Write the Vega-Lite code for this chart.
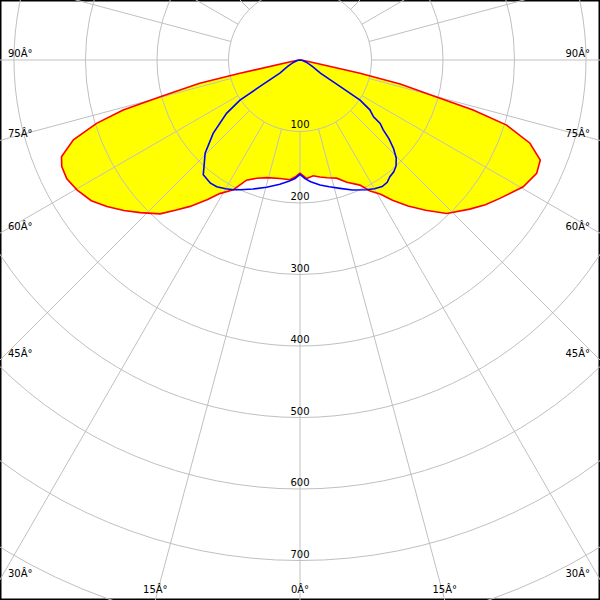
{
  "$schema": "https://vega.github.io/schema/vega-lite/v6.json",
  "autosize": {"type": "fit", "contains": "padding"},
  "width": 600,
  "height": 600,
  "padding": 0,
  "background": "white",
  "config": {
    "view": {"stroke": "#000000", "strokeWidth": 3},
    "axis": {"disable": true},
    "text": {"font": "DejaVu Sans", "fontSize": 10, "color": "#000000"}
  },
  "datasets": {
    "red": [
      {"g": -90, "v": 0}, {"g": -84, "v": 3}, {"g": -80, "v": 12}, {"g": -77.5, "v": 86}, {"g": -76.9, "v": 144},
      {"g": -75.3, "v": 202}, {"g": -74.2, "v": 257}, {"g": -72.7, "v": 298}, {"g": -70.6, "v": 336}, {"g": -67.9, "v": 360},
      {"g": -65.9, "v": 365}, {"g": -63, "v": 366}, {"g": -59.8, "v": 361}, {"g": -56, "v": 352}, {"g": -52.8, "v": 339},
      {"g": -49.5, "v": 324}, {"g": -46.3, "v": 309}, {"g": -42.3, "v": 291}, {"g": -39.5, "v": 272}, {"g": -36.9, "v": 256},
      {"g": -33.5, "v": 234}, {"g": -31, "v": 218}, {"g": -27.2, "v": 204}, {"g": -24, "v": 184}, {"g": -20, "v": 176},
      {"g": -15.8, "v": 171}, {"g": -9.6, "v": 168}, {"g": -4.8, "v": 168}, {"g": -2, "v": 163}, {"g": -0.9, "v": 160},
      {"g": 0, "v": 158.5},
      {"g": 2, "v": 163}, {"g": 3.2, "v": 166}, {"g": 6.5, "v": 163}, {"g": 9.7, "v": 166}, {"g": 13, "v": 169},
      {"g": 17.2, "v": 173}, {"g": 21, "v": 183}, {"g": 25.6, "v": 194}, {"g": 28, "v": 207}, {"g": 31, "v": 219},
      {"g": 33.4, "v": 235}, {"g": 36.5, "v": 254}, {"g": 39.9, "v": 274}, {"g": 43.7, "v": 297}, {"g": 48.7, "v": 316},
      {"g": 52, "v": 329}, {"g": 55.3, "v": 340}, {"g": 60.4, "v": 359}, {"g": 64.4, "v": 367}, {"g": 67.4, "v": 364},
      {"g": 70.1, "v": 342}, {"g": 72.5, "v": 303}, {"g": 73.9, "v": 252}, {"g": 74.7, "v": 203}, {"g": 76.5, "v": 144},
      {"g": 77.5, "v": 86}, {"g": 80, "v": 12}, {"g": 84, "v": 3}, {"g": 90, "v": 0}
    ],
    "blue": [
      {"g": -90, "v": 0}, {"g": -80, "v": 4}, {"g": -70, "v": 10}, {"g": -62, "v": 20}, {"g": -57, "v": 33},
      {"g": -56.5, "v": 67}, {"g": -56.2, "v": 101}, {"g": -54, "v": 127}, {"g": -49.8, "v": 159}, {"g": -45.5, "v": 186},
      {"g": -40.1, "v": 210}, {"g": -36, "v": 213}, {"g": -33.3, "v": 212}, {"g": -30, "v": 208}, {"g": -27.2, "v": 204},
      {"g": -24.8, "v": 200}, {"g": -20, "v": 192}, {"g": -14.7, "v": 184}, {"g": -9.2, "v": 176}, {"g": -5, "v": 170},
      {"g": -2.4, "v": 166}, {"g": 0, "v": 160},
      {"g": 2.4, "v": 166}, {"g": 5, "v": 171}, {"g": 9.1, "v": 177}, {"g": 13, "v": 182}, {"g": 17.3, "v": 188},
      {"g": 22, "v": 196}, {"g": 27.2, "v": 204}, {"g": 30, "v": 208}, {"g": 33, "v": 211}, {"g": 35.5, "v": 210},
      {"g": 37.6, "v": 206}, {"g": 40, "v": 204}, {"g": 42.2, "v": 200}, {"g": 44.5, "v": 192}, {"g": 46.6, "v": 180},
      {"g": 48.5, "v": 166}, {"g": 50, "v": 152}, {"g": 51.6, "v": 143}, {"g": 52.3, "v": 130}, {"g": 54.5, "v": 120},
      {"g": 56.3, "v": 101}, {"g": 56.5, "v": 67}, {"g": 57, "v": 34}, {"g": 62, "v": 20}, {"g": 70, "v": 10},
      {"g": 80, "v": 4}, {"g": 90, "v": 0}
    ],
    "circles": [
      {"r": 100}, {"r": 200}, {"r": 300}, {"r": 400}, {"r": 500}, {"r": 600}, {"r": 700}, {"r": 800}
    ],
    "rays": [
      {"a": -165}, {"a": -150}, {"a": -135}, {"a": -120}, {"a": -105}, {"a": -90}, {"a": -75}, {"a": -60},
      {"a": -45}, {"a": -30}, {"a": -15}, {"a": 0}, {"a": 15}, {"a": 30}, {"a": 45}, {"a": 60},
      {"a": 75}, {"a": 90}, {"a": 105}, {"a": 120}, {"a": 135}, {"a": 150}, {"a": 165}, {"a": 180}
    ],
    "sideLabels": [
      {"a": 90, "s": -1, "t": "90Â°"}, {"a": 75, "s": -1, "t": "75Â°"}, {"a": 60, "s": -1, "t": "60Â°"},
      {"a": 45, "s": -1, "t": "45Â°"}, {"a": 30, "s": -1, "t": "30Â°"},
      {"a": 90, "s": 1, "t": "90Â°"}, {"a": 75, "s": 1, "t": "75Â°"}, {"a": 60, "s": 1, "t": "60Â°"},
      {"a": 45, "s": 1, "t": "45Â°"}, {"a": 30, "s": 1, "t": "30Â°"}
    ],
    "bottomLabels": [
      {"a": 15, "s": -1, "t": "15Â°"}, {"a": 0, "s": 1, "t": "0Â°"}, {"a": 15, "s": 1, "t": "15Â°"}
    ]
  },
  "layer": [
    {
      "data": {"name": "red"},
      "transform": [
        {"calculate": "datum.v * sin(datum.g * PI / 180)", "as": "x"},
        {"calculate": "-datum.v * cos(datum.g * PI / 180)", "as": "y"}
      ],
      "mark": {"type": "line", "fill": "#ffff00", "stroke": "#ffff00", "strokeWidth": 0, "clip": true},
      "encoding": {
        "x": {"field": "x", "type": "quantitative", "scale": {"domain": [-419.55, 419.55], "nice": false, "zero": false}},
        "y": {"field": "y", "type": "quantitative", "scale": {"domain": [-755.2, 83.9], "nice": false, "zero": false}},
        "order": {"field": "g", "type": "quantitative"}
      }
    },
    {
      "data": {"name": "circles"},
      "mark": {"type": "arc", "theta": 0, "theta2": 6.2832, "filled": false, "color": "#c0c0c0", "strokeWidth": 1, "clip": true},
      "encoding": {
        "x": {"datum": 0, "type": "quantitative", "scale": {"domain": [-419.55, 419.55], "nice": false, "zero": false}},
        "y": {"datum": 0, "type": "quantitative", "scale": {"domain": [-755.2, 83.9], "nice": false, "zero": false}},
        "radius": {"field": "r", "type": "quantitative", "stack": null, "scale": {"type": "linear", "domain": [0, 839.1], "range": [0, 600], "zero": true, "nice": false}}
      }
    },
    {
      "data": {"name": "rays"},
      "transform": [
        {"calculate": "100 * sin(datum.a * PI / 180)", "as": "x1"},
        {"calculate": "-100 * cos(datum.a * PI / 180)", "as": "y1"},
        {"calculate": "1300 * sin(datum.a * PI / 180)", "as": "x2"},
        {"calculate": "-1300 * cos(datum.a * PI / 180)", "as": "y2"}
      ],
      "mark": {"type": "rule", "color": "#c0c0c0", "strokeWidth": 1, "clip": true},
      "encoding": {
        "x": {"field": "x1", "type": "quantitative", "scale": {"domain": [-419.55, 419.55], "nice": false, "zero": false}},
        "y": {"field": "y1", "type": "quantitative", "scale": {"domain": [-755.2, 83.9], "nice": false, "zero": false}},
        "x2": {"field": "x2"},
        "y2": {"field": "y2"}
      }
    },
    {
      "data": {"name": "red"},
      "transform": [
        {"calculate": "datum.v * sin(datum.g * PI / 180)", "as": "x"},
        {"calculate": "-datum.v * cos(datum.g * PI / 180)", "as": "y"}
      ],
      "mark": {"type": "line", "color": "#ff0000", "strokeWidth": 1.6, "clip": true},
      "encoding": {
        "x": {"field": "x", "type": "quantitative", "scale": {"domain": [-419.55, 419.55], "nice": false, "zero": false}},
        "y": {"field": "y", "type": "quantitative", "scale": {"domain": [-755.2, 83.9], "nice": false, "zero": false}},
        "order": {"field": "g", "type": "quantitative"}
      }
    },
    {
      "data": {"name": "blue"},
      "transform": [
        {"calculate": "datum.v * sin(datum.g * PI / 180)", "as": "x"},
        {"calculate": "-datum.v * cos(datum.g * PI / 180)", "as": "y"}
      ],
      "mark": {"type": "line", "color": "#0000ff", "strokeWidth": 1.6, "clip": true},
      "encoding": {
        "x": {"field": "x", "type": "quantitative", "scale": {"domain": [-419.55, 419.55], "nice": false, "zero": false}},
        "y": {"field": "y", "type": "quantitative", "scale": {"domain": [-755.2, 83.9], "nice": false, "zero": false}},
        "order": {"field": "g", "type": "quantitative"}
      }
    },
    {
      "data": {"name": "circles"},
      "transform": [
        {"filter": "datum.r <= 700"},
        {"calculate": "-datum.r", "as": "ly"}
      ],
      "mark": {"type": "text", "align": "center", "baseline": "alphabetic", "dy": -3},
      "encoding": {
        "x": {"datum": 0, "type": "quantitative", "scale": {"domain": [-419.55, 419.55], "nice": false, "zero": false}},
        "y": {"field": "ly", "type": "quantitative", "scale": {"domain": [-755.2, 83.9], "nice": false, "zero": false}},
        "text": {"field": "r", "type": "nominal"}
      }
    },
    {
      "data": {"name": "sideLabels"},
      "transform": [
        {"filter": "datum.s < 0"},
        {"calculate": "datum.s * 419.55", "as": "lx"},
        {"calculate": "-419.55 * cos(datum.a * PI / 180) / sin(datum.a * PI / 180)", "as": "ly"}
      ],
      "mark": {"type": "text", "align": "left", "baseline": "alphabetic", "dx": 8, "dy": -3},
      "encoding": {
        "x": {"field": "lx", "type": "quantitative", "scale": {"domain": [-419.55, 419.55], "nice": false, "zero": false}},
        "y": {"field": "ly", "type": "quantitative", "scale": {"domain": [-755.2, 83.9], "nice": false, "zero": false}},
        "text": {"field": "t", "type": "nominal"}
      }
    },
    {
      "data": {"name": "sideLabels"},
      "transform": [
        {"filter": "datum.s > 0"},
        {"calculate": "datum.s * 419.55", "as": "lx"},
        {"calculate": "-419.55 * cos(datum.a * PI / 180) / sin(datum.a * PI / 180)", "as": "ly"}
      ],
      "mark": {"type": "text", "align": "right", "baseline": "alphabetic", "dx": -10, "dy": -3},
      "encoding": {
        "x": {"field": "lx", "type": "quantitative", "scale": {"domain": [-419.55, 419.55], "nice": false, "zero": false}},
        "y": {"field": "ly", "type": "quantitative", "scale": {"domain": [-755.2, 83.9], "nice": false, "zero": false}},
        "text": {"field": "t", "type": "nominal"}
      }
    },
    {
      "data": {"name": "bottomLabels"},
      "transform": [
        {"calculate": "datum.s * 755.2 * sin(datum.a * PI / 180) / cos(datum.a * PI / 180)", "as": "lx"},
        {"calculate": "-755.2", "as": "ly"}
      ],
      "mark": {"type": "text", "align": "center", "baseline": "alphabetic", "dy": -7},
      "encoding": {
        "x": {"field": "lx", "type": "quantitative", "scale": {"domain": [-419.55, 419.55], "nice": false, "zero": false}},
        "y": {"field": "ly", "type": "quantitative", "scale": {"domain": [-755.2, 83.9], "nice": false, "zero": false}},
        "text": {"field": "t", "type": "nominal"}
      }
    }
  ]
}
